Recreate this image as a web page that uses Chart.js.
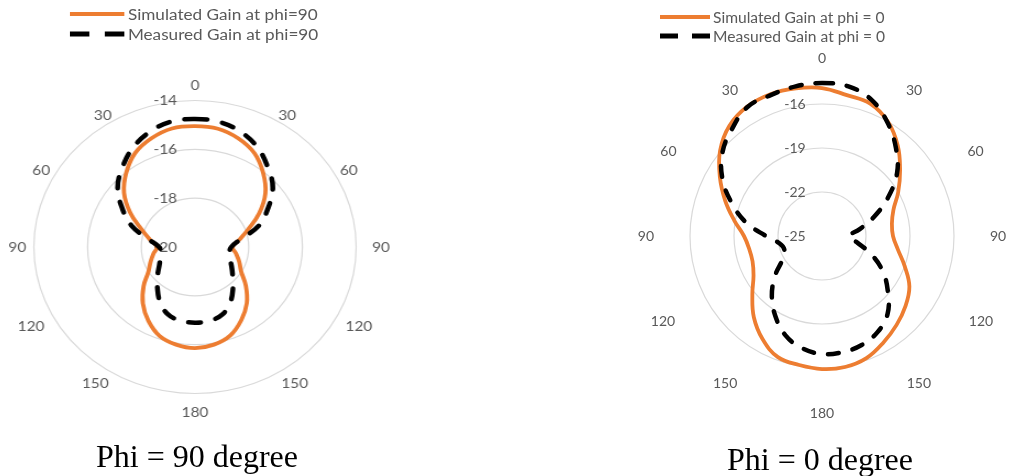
<!DOCTYPE html>
<html>
<head>
<meta charset="utf-8">
<title>Gain patterns</title>
<script src="https://cdn.jsdelivr.net/npm/chart.js@4.4.1/dist/chart.umd.min.js"></script>
<style>
  html, body { margin: 0; padding: 0; background: #fff; }
  body { width: 1021px; height: 476px; overflow: hidden; position: relative; font-family: Lato, sans-serif; }
  .panel { position: absolute; top: 0; height: 476px; }
  #panelA { left: -5px; width: 400px; transform: scaleX(1.1); transform-origin: 200px 0; }
  #panelB { left: 623px; width: 398px; }
  .panel canvas { position: absolute; left: 0; top: 0; }
  .legend { position: absolute; margin: 0; padding: 0; list-style: none; font-size: 15.6px; color: #595959; z-index: 2; }
  .legend li { display: flex; align-items: center; height: 19px; white-space: nowrap; }
  .legend svg { display: block; flex: none; margin-right: 3px; }
  #legendA { left: 86px; top: 4.5px; }
  #legendA li { height: 19.5px; }
  #legendB { left: 37px; top: 7.5px; }
  .caption { position: absolute; font-family: 'Liberation Serif', 'Times New Roman', serif; font-size: 32px;
             line-height: 36px; color: #000; white-space: nowrap; transform: translateX(-50%); }
</style>
</head>
<body>
<div class="panel" id="panelA">
  <ul class="legend" id="legendA"></ul>
  <canvas id="chartA" width="400" height="476"></canvas>
</div>
<div class="panel" id="panelB">
  <ul class="legend" id="legendB"></ul>
  <canvas id="chartB" width="398" height="476"></canvas>
</div>
<div class="caption" style="left:197px; top:438px;">Phi = 90 degree</div>
<div class="caption" style="left:820px; top:441px;">Phi = 0 degree</div>

<script>
// Measurement angles, clockwise from boresight (0) through 180 and back up the other side
const angles = [0, 10, 20, 30, 40, 50, 60, 70, 80, 90, 100, 110, 120, 130, 140, 150, 160, 170,
                180, 190, 200, 210, 220, 230, 240, 250, 260, 270, 280, 290, 300, 310, 320, 330, 340, 350];
// Angle labels shown every 30 degrees
const angleTickLabels = ['0', '30', '60', '90', '120', '150', '180', '150', '120', '90', '60', '30'];

// Radial rings (dB)
const ringsPhi90 = [-20, -18, -16, -14];
const ringsPhi0 = [-25, -22, -19, -16];

// Series names
const seriesPhi90 = ['Simulated Gain at phi=90', 'Measured Gain at phi=90'];
const seriesPhi0 = ['Simulated Gain at phi = 0', 'Measured Gain at phi = 0'];

// Gain (dB) at each angle, phi = 90 cut
const simGainPhi90 = [-15.05, -15.08, -15.27, -15.57, -16.05, -16.58, -17.24, -17.90, -18.33, -18.60,
                      -18.45, -18.25, -18.02, -17.53, -17.00, -16.55, -16.15, -15.94, -15.86, -15.94,
                      -16.13, -16.52, -16.98, -17.50, -18.00, -18.24, -18.43, -18.58, -18.30, -17.88,
                      -17.22, -16.55, -16.02, -15.55, -15.26, -15.07];
const measGainPhi90 = [-14.76, -14.80, -14.99, -15.32, -15.77, -16.22, -16.87, -17.48, -18.30, -18.65,
                       -18.70, -18.62, -18.43, -18.17, -17.80, -17.38, -17.05, -16.93, -16.90, -16.94,
                       -17.06, -17.40, -17.82, -18.18, -18.46, -18.63, -18.72, -18.66, -18.26, -17.50,
                       -16.88, -16.24, -15.78, -15.34, -15.00, -14.79];

// Gain (dB) at each angle, phi = 0 cut
const simGainPhi0 = [-14.91, -15.25, -15.39, -16.00, -16.96, -18.05, -19.00, -19.82, -20.16, -20.16,
                     -19.75, -19.00, -18.12, -17.57, -17.09, -16.62, -16.14, -15.93, -15.93, -16.07,
                     -16.21, -16.89, -17.77, -18.80, -19.61, -19.96, -19.96, -19.68, -18.93, -17.98,
                     -16.96, -15.93, -15.18, -14.81, -14.71, -14.78];
const measGainPhi0 = [-14.57, -14.64, -15.12, -16.07, -17.16, -18.32, -19.82, -21.25, -22.41, -23.16,
                      -22.61, -21.46, -20.23, -19.14, -18.05, -17.43, -17.09, -16.96, -16.96, -17.23,
                      -17.77, -18.66, -19.68, -20.84, -21.93, -22.27, -22.07, -21.18, -19.75, -18.46,
                      -17.16, -16.14, -15.46, -14.84, -14.78, -14.64];

const ORANGE = '#ED7D31';
const TEXT_GREY = '#595959';
const FONT = 'Lato';
const legendDash = [18, 14];

// Ring values written just left of the vertical axis, beneath the curves
const ringValueLabels = {
  id: 'ringValueLabels',
  beforeDatasetsDraw(chart, args, opts) {
    const s = chart.scales.r;
    const ctx = chart.ctx;
    ctx.save();
    ctx.font = opts.size + 'px ' + opts.family;
    ctx.fillStyle = opts.color;
    ctx.textAlign = 'center';
    ctx.textBaseline = 'middle';
    s.ticks.forEach(t => {
      const p = s.getPointPositionForValue(0, t.value);
      ctx.fillText(t.label, p.x + opts.offsetX, p.y);
    });
    ctx.restore();
  }
};

// Gap between the outer ring and each angle label, looked up by angle
function labelPadding(table, fallback) {
  return ctx => {
    const a = angles[ctx.index];
    return (a in table) ? table[a] : fallback;
  };
}

function makeRadar(id, sim, meas, names, rings, pad) {
  return new Chart(document.getElementById(id), {
    type: 'radar',
    data: {
      labels: angles,
      datasets: [
        { label: names[0], data: sim, borderColor: ORANGE, backgroundColor: ORANGE,
          borderWidth: 3.8, fill: false, order: 1 },
        { label: names[1], data: meas, borderColor: '#000000', backgroundColor: '#000000',
          borderWidth: 4.5, borderDash: [11, 14], borderCapStyle: 'round', fill: false, order: 0 }
      ]
    },
    options: {
      responsive: false,
      animation: false,
      events: [],
      layout: { padding: { top: pad.top, bottom: pad.bottom, left: 0, right: 0 } },
      elements: {
        point: { radius: 0, hoverRadius: 0, hitRadius: 0 },
        line: { tension: 0.4 }
      },
      plugins: {
        legend: { display: false },
        tooltip: { enabled: false },
        ringValueLabels: { size: 14, family: FONT, color: TEXT_GREY, offsetX: -27 }
      },
      scales: {
        r: {
          min: rings[0],
          max: rings[rings.length - 1],
          ticks: { display: false, stepSize: rings[1] - rings[0] },
          grid: { circular: true, color: '#d9d9d9', lineWidth: 1.2 },
          angleLines: { display: false },
          pointLabels: {
            callback: (label, i) => (i % 3 === 0 ? angleTickLabels[i / 3] : ''),
            padding: labelPadding(pad.labels, pad.labelDefault),
            font: { family: FONT, size: 14, lineHeight: '1px' },
            color: TEXT_GREY
          }
        }
      }
    },
    plugins: [ringValueLabels]
  });
}

// HTML legend built from the chart's datasets
function buildLegend(chart, listId) {
  const ul = document.getElementById(listId);
  const NS = 'http://www.w3.org/2000/svg';
  chart.data.datasets.forEach(ds => {
    const li = document.createElement('li');
    const svg = document.createElementNS(NS, 'svg');
    svg.setAttribute('width', '50');
    svg.setAttribute('height', '10');
    const line = document.createElementNS(NS, 'line');
    line.setAttribute('x1', '0'); line.setAttribute('y1', '5');
    line.setAttribute('x2', '50'); line.setAttribute('y2', '5');
    line.setAttribute('stroke', ds.borderColor);
    line.setAttribute('stroke-width', ds.borderDash ? '5' : '4.2');
    if (ds.borderDash) line.setAttribute('stroke-dasharray', legendDash.join(' '));
    svg.appendChild(line);
    const span = document.createElement('span');
    span.textContent = ds.label;
    li.appendChild(svg);
    li.appendChild(span);
    ul.appendChild(li);
  });
}

const chartA = makeRadar('chartA', simGainPhi90, measGainPhi90, seriesPhi90, ringsPhi90, {
  top: 83, bottom: 61,
  labels: { 0: 14.5, 30: 5, 60: 5.5, 90: 14.5, 120: 11.5, 150: 10.5, 180: 18.5,
            210: 10.5, 240: 11.5, 270: 7, 300: 5.5, 330: 5 },
  labelDefault: 9
});
const chartB = makeRadar('chartB', simGainPhi0, measGainPhi0, seriesPhi0, ringsPhi0, {
  top: 58, bottom: 62,
  labels: { 0: 45, 30: 36, 60: 36, 90: 36, 120: 37.5, 150: 37.5, 180: 45,
            210: 37.5, 240: 37.5, 270: 36, 300: 36, 330: 36 },
  labelDefault: 36
});
buildLegend(chartA, 'legendA');
buildLegend(chartB, 'legendB');
</script>
</body>
</html>
